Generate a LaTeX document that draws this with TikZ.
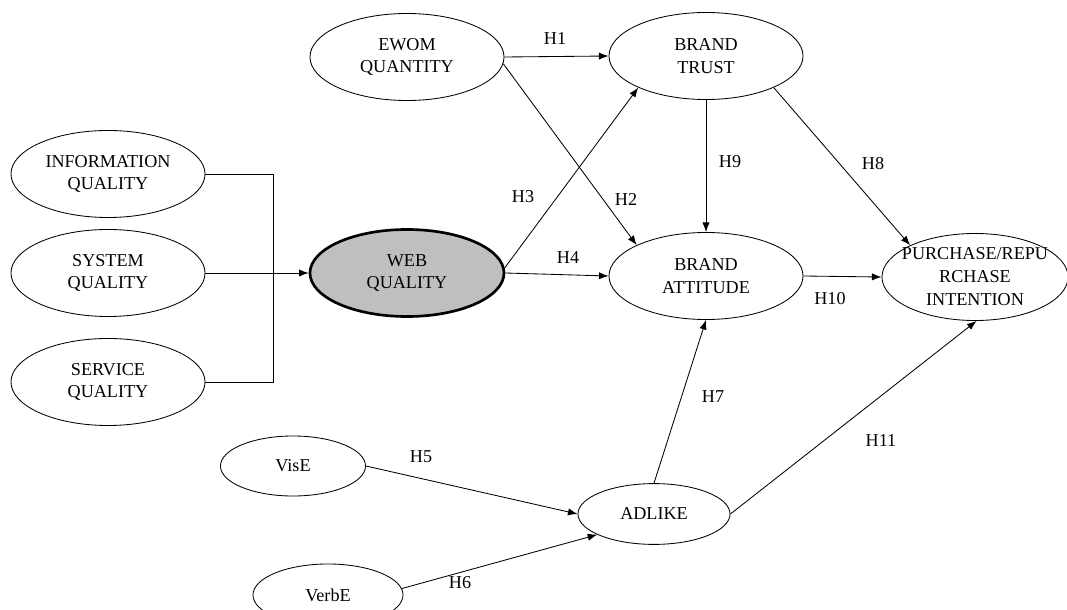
\documentclass[tikz,border=0pt]{standalone}
\usepackage{fontspec}
\setmainfont{Liberation Serif}
\usetikzlibrary{shapes.geometric,arrows.meta}

\begin{document}
\begin{tikzpicture}[x=0.025cm,y=-0.025cm,
  font=\fontsize{12.9pt}{16.3pt}\selectfont,
  construct/.style={ellipse,draw,line width=0.6pt,inner sep=-1cm,align=center,
    minimum width=4.85cm,minimum height=2.175cm},
  small/.style={construct,minimum width=3.7cm,minimum height=1.52cm},
  hyp/.style={-{Latex[length=2.4mm,width=1.8mm]},line width=0.6pt}]
  \useasboundingbox (0,0) rectangle (1067,610);
  % constructs
  \node[construct] (ewom) at (407,57) {EWOM\\QUANTITY};
  \node[construct] (trust) at (706,56) {BRAND\\TRUST};
  \node[construct] (info) at (108,174) {INFORMATION\\QUALITY};
  \node[construct] (system) at (108,273) {SYSTEM\\QUALITY};
  \node[construct] (service) at (108,382) {SERVICE\\QUALITY};
  \node[construct,fill=black!25,line width=1.9pt] (web) at (407,273) {WEB\\QUALITY};
  \node[construct] (attitude) at (706,276) {BRAND\\ATTITUDE};
  \node[construct,minimum width=4.65cm] (purchase) at (975,277) {PURCHASE/REPU\\RCHASE\\INTENTION};
  \node[small,minimum width=3.625cm,minimum height=1.5cm] (vise) at (293,466) {VisE};
  \node[small,minimum width=3.8cm] (adlike) at (654,514) {ADLIKE};
  \node[small,minimum width=3.75cm,minimum height=1.55cm] (verbe) at (328,595) {VerbE};
  % web quality dimensions
  \coordinate (bus) at (273,273);
  \draw[line width=0.6pt] (info.east) -- (info.east -| bus) -- (service.east -| bus) -- (service.east);
  \draw[hyp] (system.east) -- (web.west);
  % hypotheses
  \draw[hyp] (ewom.east) -- (trust.west);
  \draw[hyp] (ewom.-4) -- (attitude.156);
  \draw[hyp] (web.3) -- (trust.205);
  \draw[hyp] (web.east) -- (attitude.west);
  \draw[hyp] (vise.east) -- (adlike.west);
  \draw[hyp] (verbe.5) -- (adlike.200);
  \draw[hyp] (adlike.north) -- (attitude.south);
  \draw[hyp] (trust.-25) -- (purchase.154);
  \draw[hyp] (trust.south) -- (attitude.north);
  \draw[hyp] (attitude.east) -- (purchase.west);
  \draw[hyp] (adlike.east) -- (purchase.-88);
  % labels
  \node (h1) at (555,39) {H1};
  \node (h2) at (626,199) {H2};
  \node (h3) at (523,197) {H3};
  \node (h4) at (568,258) {H4};
  \node (h5) at (421,457) {H5};
  \node (h6) at (460,583) {H6};
  \node (h7) at (713,397) {H7};
  \node (h8) at (873,164) {H8};
  \node (h9) at (730,162) {H9};
  \node (h10) at (830,299) {H10};
  \node (h11) at (881,441) {H11};
\end{tikzpicture}
\end{document}
